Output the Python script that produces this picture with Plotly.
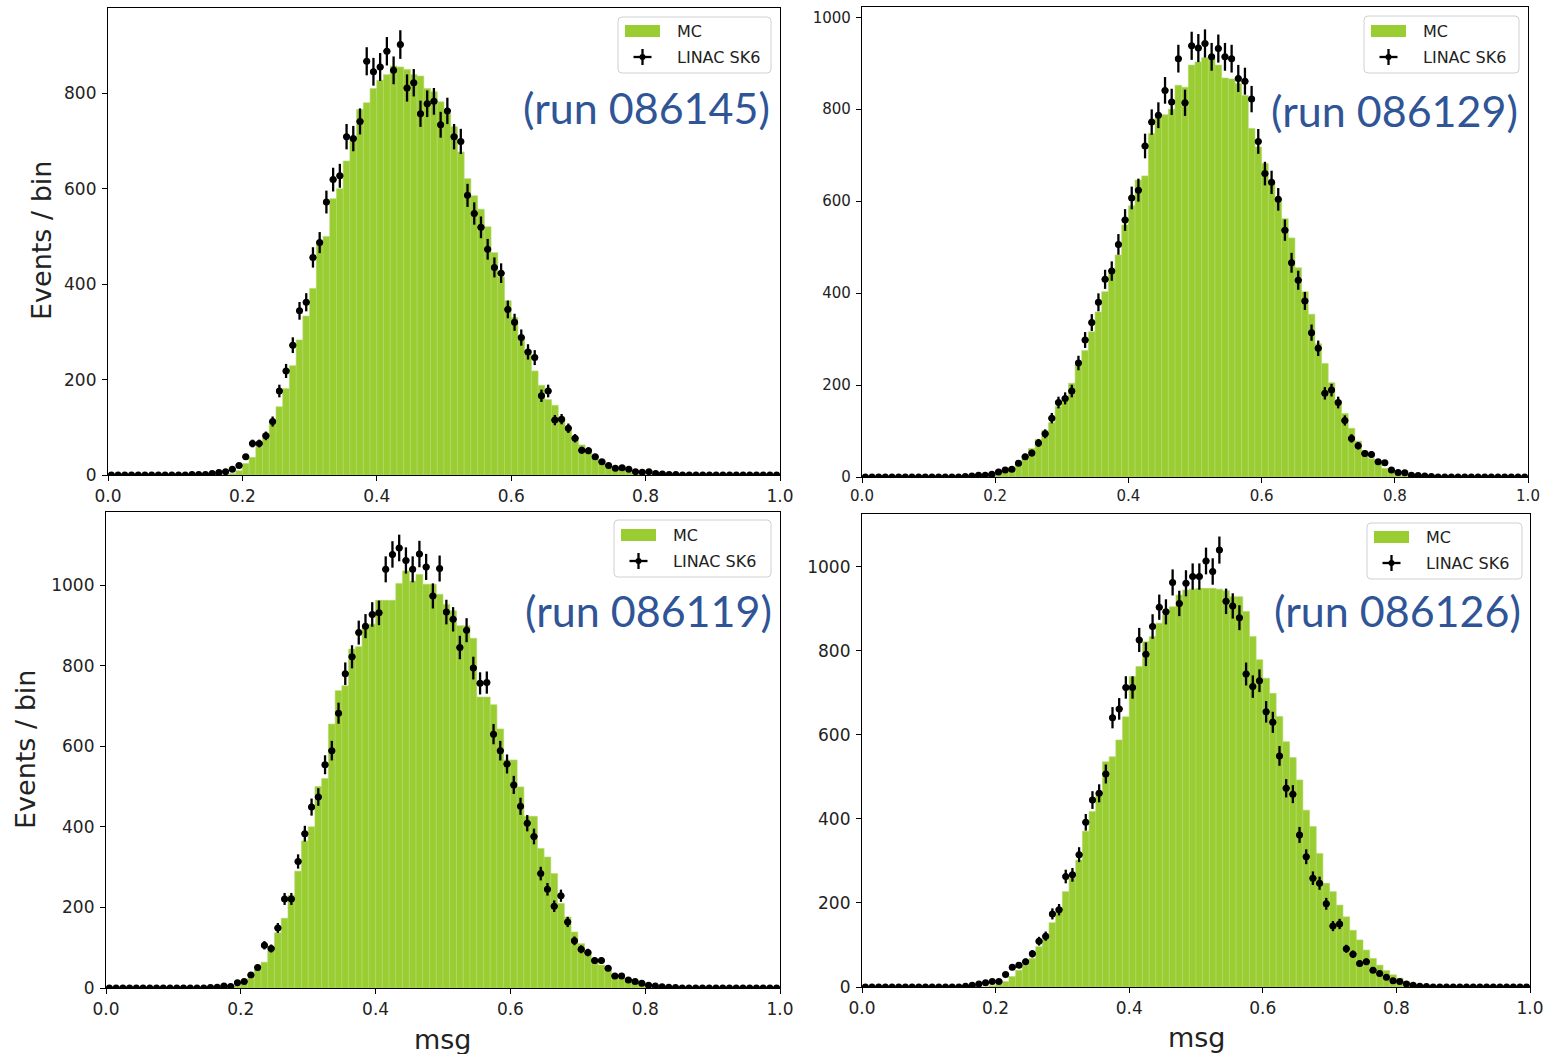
import numpy as np
import plotly.graph_objects as go

# msg binning: 100 bins over [0, 1]
bin_edges = np.linspace(0.0, 1.0, 101)
bin_centers = 0.5 * (bin_edges[:-1] + bin_edges[1:])

run_labels = ["(run 086145)", "(run 086129)", "(run 086119)", "(run 086126)"]

# ---- run 086145 ----
mc_086145 = [
    0, 0, 0, 0, 0, 0, 0, 0, 0, 0, 0, 0, 0, 0, 0, 0, 0, 1, 3, 9,
    24, 37, 59, 87, 112, 143, 181, 229, 283, 333, 391, 485, 500, 579, 600, 658, 705, 766, 780, 810,
    827, 839, 857, 855, 850, 839, 836, 810, 803, 782, 757, 730, 677, 621, 585, 557, 520, 466, 415, 365,
    330, 288, 262, 218, 188, 158, 146, 120, 93, 80, 63, 47, 36, 28, 22, 17, 11, 6, 4, 2,
    1, 0, 0, 0, 0, 0, 0, 0, 0, 0, 0, 0, 0, 0, 0, 0, 0, 0, 0, 0,
]
data_086145 = [
    0, 0, 0, 0, 0, 0, 0, 0, 0, 0, 0, 0, 1, 1, 1, 3, 5, 7, 12, 20,
    38, 66, 66, 82, 112, 176, 218, 272, 344, 362, 456, 487, 572, 619, 627, 709, 705, 741, 867, 845,
    855, 888, 848, 902, 811, 822, 757, 778, 783, 734, 763, 709, 699, 586, 548, 519, 473, 435, 423, 347,
    320, 288, 258, 246, 166, 176, 115, 117, 98, 77, 52, 51, 38, 28, 20, 14, 15, 12, 7, 6,
    7, 3, 2, 1, 1, 0, 0, 0, 0, 0, 0, 0, 0, 0, 0, 0, 0, 0, 0, 0,
]

# ---- run 086129 ----
mc_086129 = [
    0, 0, 0, 0, 0, 0, 0, 0, 0, 0, 0, 0, 0, 0, 0, 0, 0, 1, 3, 5,
    9, 14, 20, 28, 46, 62, 82, 101, 118, 153, 168, 204, 243, 275, 316, 359, 403, 443, 483, 548,
    590, 646, 655, 747, 783, 788, 800, 852, 848, 896, 903, 912, 912, 896, 868, 866, 856, 830, 758, 718,
    682, 642, 603, 562, 520, 455, 403, 354, 290, 247, 205, 167, 138, 106, 78, 57, 40, 28, 19, 12,
    8, 4, 2, 1, 0, 0, 0, 0, 0, 0, 0, 0, 0, 0, 0, 0, 0, 0, 0, 0,
]
data_086129 = [
    0, 0, 0, 0, 0, 0, 0, 0, 0, 0, 0, 0, 0, 0, 0, 1, 2, 4, 4, 6,
    11, 15, 17, 30, 44, 52, 74, 94, 128, 162, 171, 187, 248, 298, 336, 380, 430, 448, 506, 559,
    607, 624, 720, 772, 787, 841, 816, 910, 814, 938, 933, 943, 914, 932, 914, 910, 867, 861, 822, 730,
    660, 641, 604, 537, 466, 428, 383, 314, 280, 182, 189, 162, 123, 84, 68, 51, 49, 33, 31, 15,
    10, 9, 4, 3, 2, 1, 0, 0, 0, 0, 0, 0, 0, 0, 0, 0, 0, 0, 0, 0,
]

# ---- run 086119 ----
mc_086119 = [
    0, 0, 0, 0, 0, 0, 0, 0, 0, 0, 0, 0, 0, 0, 0, 0, 0, 0, 2, 5,
    12, 24, 45, 64, 102, 137, 173, 230, 290, 365, 400, 500, 520, 655, 738, 750, 841, 847, 894, 903,
    962, 962, 962, 1004, 1035, 1010, 1026, 1002, 1002, 977, 952, 936, 899, 899, 868, 722, 722, 703, 643, 566,
    566, 499, 426, 426, 346, 325, 284, 210, 176, 139, 110, 90, 69, 57, 45, 32, 24, 18, 13, 9,
    6, 3, 2, 1, 0, 0, 0, 0, 0, 0, 0, 0, 0, 0, 0, 0, 0, 0, 0, 0,
]
data_086119 = [
    0, 0, 0, 0, 0, 0, 0, 0, 0, 0, 0, 0, 0, 0, 0, 1, 2, 5, 4, 13,
    16, 32, 51, 106, 98, 149, 221, 221, 314, 383, 449, 474, 554, 589, 682, 780, 822, 882, 898, 927,
    931, 1039, 1076, 1092, 1061, 1039, 1077, 1045, 973, 1041, 933, 915, 845, 888, 794, 756, 758, 630, 589, 556,
    504, 451, 409, 376, 284, 245, 203, 229, 164, 117, 96, 88, 68, 68, 49, 30, 30, 20, 16, 12,
    7, 5, 3, 2, 1, 0, 0, 0, 0, 0, 0, 0, 0, 0, 0, 0, 0, 0, 0, 0,
]

# ---- run 086126 ----
mc_086126 = [
    0, 0, 0, 0, 0, 0, 0, 0, 0, 0, 0, 0, 0, 0, 0, 0, 0, 0, 0, 3,
    6, 13, 25, 40, 52, 68, 96, 116, 153, 187, 227, 259, 302, 371, 418, 461, 536, 548, 588, 643,
    739, 763, 822, 834, 866, 886, 905, 933, 945, 947, 949, 949, 949, 947, 943, 929, 929, 894, 834, 779,
    735, 699, 644, 584, 546, 493, 421, 382, 318, 247, 227, 195, 167, 135, 112, 88, 68, 52, 39, 29,
    21, 13, 7, 4, 2, 1, 0, 0, 0, 0, 0, 0, 0, 0, 0, 0, 0, 0, 0, 0,
]
data_086126 = [
    0, 0, 0, 0, 0, 0, 0, 0, 0, 0, 0, 0, 0, 0, 0, 2, 4, 7, 10, 13,
    13, 30, 47, 52, 60, 79, 109, 121, 174, 184, 263, 267, 315, 392, 445, 461, 507, 641, 662, 713,
    713, 826, 792, 858, 904, 893, 963, 913, 961, 977, 977, 1014, 989, 1040, 918, 907, 879, 745, 715, 729,
    655, 630, 550, 473, 459, 362, 310, 259, 247, 198, 145, 150, 91, 78, 56, 60, 40, 32, 23, 15,
    13, 7, 4, 2, 1, 0, 0, 0, 0, 0, 0, 0, 0, 0, 0, 0, 0, 0, 0, 0,
]

mc_sets = [mc_086145, mc_086129, mc_086119, mc_086126]
data_sets = [data_086145, data_086129, data_086119, data_086126]

W, H = 1544, 1054
MC_GREEN = "#9ACD32"
RUN_BLUE = "#2F5597"


def px(x):
    return x / W


def py(y):
    return 1 - y / H


# plot areas in pixel coordinates: (left, right, top, bottom)
areas = [
    (108, 780, 8, 475),
    (862, 1528, 7, 477),
    (106, 780, 512, 988),
    (862, 1530, 514, 987),
]
tick_sizes = [17, 15, 17, 17]

fig = go.Figure()

for k in range(4):
    xa = "x" if k == 0 else f"x{k + 1}"
    ya = "y" if k == 0 else f"y{k + 1}"
    mc = np.array(mc_sets[k], dtype=float)
    dat = np.array(data_sets[k], dtype=float)
    err = np.sqrt(dat)

    fig.add_trace(go.Bar(
        x=bin_centers, y=mc, width=0.01, xaxis=xa, yaxis=ya,
        marker=dict(color=MC_GREEN, line=dict(color="#b2d96b", width=0.6)),
        name="MC", showlegend=False,
    ))
    fig.add_trace(go.Scatter(
        x=bin_centers, y=dat, mode="markers", xaxis=xa, yaxis=ya,
        marker=dict(color="black", size=7),
        error_y=dict(type="data", array=err, color="black", thickness=2.3, width=0),
        error_x=dict(type="constant", value=0.005, color="black", thickness=2.3, width=0),
        name="LINAC SK6", showlegend=False,
    ))

    ymax = float(np.max(dat + err)) * 1.05
    l, r, t, b = areas[k]
    axis_common = dict(
        showline=True, mirror=True, linecolor="#000", linewidth=1.2,
        ticks="outside", ticklen=5, tickwidth=1.2, tickcolor="#000",
        showgrid=False, zeroline=False, automargin=False,
        tickfont=dict(family="DejaVu Sans", size=tick_sizes[k], color="#222"),
    )
    fig.update_layout(**{
        ("xaxis" if k == 0 else f"xaxis{k + 1}"): dict(
            domain=[px(l), px(r)], range=[0, 1], tick0=0, dtick=0.2, tickformat=".1f",
            anchor=ya, **axis_common),
        ("yaxis" if k == 0 else f"yaxis{k + 1}"): dict(
            domain=[py(b), py(t)], range=[0, ymax], tick0=0, dtick=200,
            anchor=xa, ticklabelstandoff=2, **axis_common),
    })

# legends drawn per panel: (box l, t, r, b, text x, row1 y, row2 y)
legends = [
    (618, 17, 771, 73, 675, 31, 57),
    (1364, 16, 1519, 73, 1421, 31, 57),
    (614, 520, 771, 577, 671, 535, 561),
    (1367, 523, 1522, 579, 1424, 537, 563),
]
shapes = []
annotations = []
for (bl, bt, br, bb, tx, y1, y2) in legends:
    rr = 4
    path = (f"M {px(bl + rr)},{py(bt)} L {px(br - rr)},{py(bt)} Q {px(br)},{py(bt)} {px(br)},{py(bt + rr)} "
            f"L {px(br)},{py(bb - rr)} Q {px(br)},{py(bb)} {px(br - rr)},{py(bb)} "
            f"L {px(bl + rr)},{py(bb)} Q {px(bl)},{py(bb)} {px(bl)},{py(bb - rr)} "
            f"L {px(bl)},{py(bt + rr)} Q {px(bl)},{py(bt)} {px(bl + rr)},{py(bt)} Z")
    shapes.append(dict(type="path", xref="paper", yref="paper", path=path,
                       line=dict(color="#d0d0d0", width=1), fillcolor="rgba(255,255,255,0.85)"))
    pl = bl + 7
    shapes.append(dict(type="rect", xref="paper", yref="paper",
                       x0=px(pl), x1=px(pl + 35), y0=py(y1 - 6), y1=py(y1 + 6),
                       line=dict(width=0), fillcolor=MC_GREEN))
    cx = pl + 17.5
    shapes.append(dict(type="line", xref="paper", yref="paper",
                       x0=px(cx - 9), x1=px(cx + 9), y0=py(y2), y1=py(y2),
                       line=dict(color="black", width=2.3)))
    shapes.append(dict(type="line", xref="paper", yref="paper",
                       x0=px(cx), x1=px(cx), y0=py(y2 - 8), y1=py(y2 + 8),
                       line=dict(color="black", width=2.3)))
    shapes.append(dict(type="circle", xref="paper", yref="paper",
                       x0=px(cx - 3), x1=px(cx + 3), y0=py(y2 - 3), y1=py(y2 + 3),
                       line=dict(width=0), fillcolor="black"))
    for txt, yy in (("MC", y1), ("LINAC SK6", y2)):
        annotations.append(dict(text=txt, xref="paper", yref="paper", x=px(tx), y=py(yy),
                                xanchor="left", yanchor="middle", showarrow=False,
                                font=dict(family="DejaVu Sans", size=16, color="#222")))

# run labels, right aligned near the legends
run_pos = [(772, 108), (1520, 110), (774, 610), (1523, 610)]
for lab, (rx, ry) in zip(run_labels, run_pos):
    annotations.append(dict(text=lab, xref="paper", yref="paper", x=px(rx), y=py(ry),
                            xanchor="right", yanchor="middle", showarrow=False,
                            font=dict(family="Lato", size=43, color=RUN_BLUE)))

# axis titles
for (cx, cy) in [(42, 241), (25, 750)]:
    annotations.append(dict(text="Events / bin", xref="paper", yref="paper", x=px(cx), y=py(cy),
                            xanchor="center", yanchor="middle", textangle=-90, showarrow=False,
                            font=dict(family="DejaVu Sans", size=27, color="#222")))
for (cx, cy) in [(443, 1039), (1197, 1037)]:
    annotations.append(dict(text="msg", xref="paper", yref="paper", x=px(cx), y=py(cy),
                            xanchor="center", yanchor="middle", showarrow=False,
                            font=dict(family="DejaVu Sans", size=27, color="#222")))

fig.update_layout(
    width=W, height=H, margin=dict(l=0, r=0, t=0, b=0),
    paper_bgcolor="white", plot_bgcolor="white",
    barmode="overlay", showlegend=False,
    shapes=shapes, annotations=annotations,
)

fig.write_html("out.html")
